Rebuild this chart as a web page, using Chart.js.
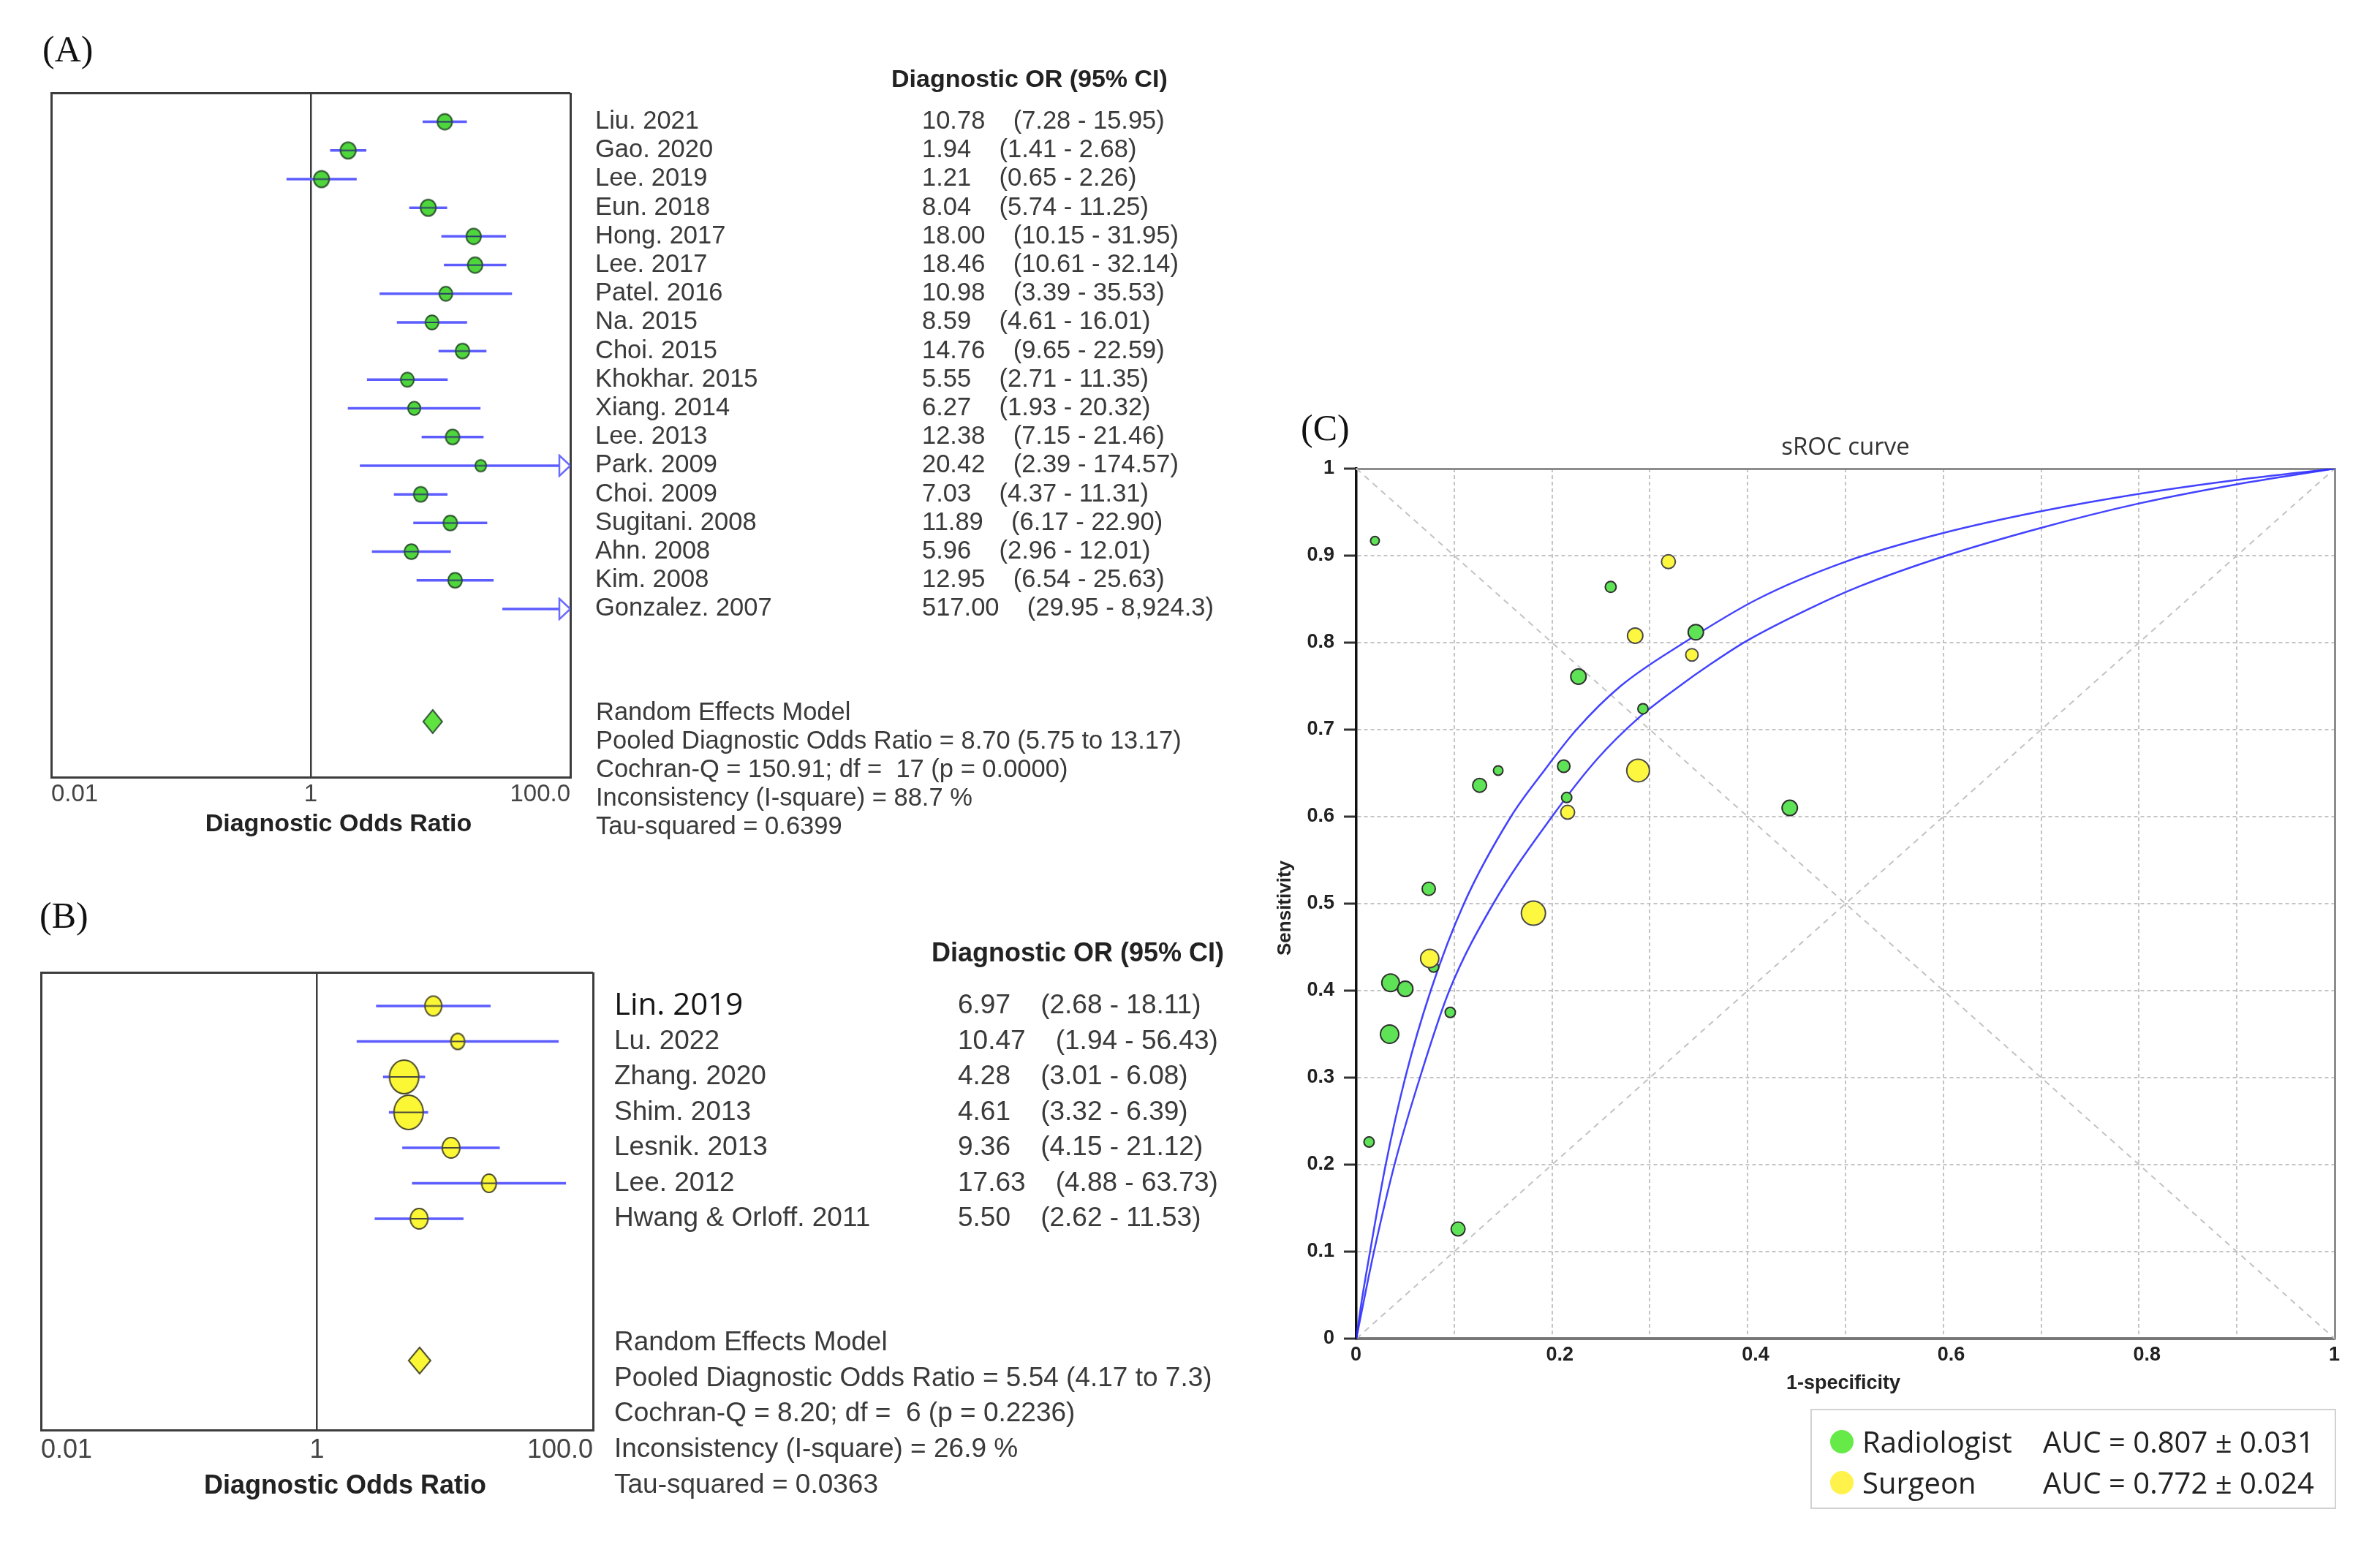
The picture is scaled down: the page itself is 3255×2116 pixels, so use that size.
<!DOCTYPE html>
<html><head><meta charset="utf-8">
<script src="https://cdn.jsdelivr.net/npm/chart.js@4.4.1/dist/chart.umd.min.js"></script>
<style>
html,body{margin:0;padding:0;background:#fff;}
body{width:3255px;height:2116px;position:relative;overflow:hidden;font-family:'Liberation Sans',Arial,sans-serif;}
.box{position:absolute;}
.t{position:absolute;white-space:pre;line-height:1;}
.dot{position:absolute;border-radius:50%;}
</style></head><body>
<div class="box" style="left:0;top:0;width:1700px;height:1130px"><canvas id="cA"></canvas></div>
<div class="box" style="left:0;top:1250px;width:1700px;height:766px"><canvas id="cB"></canvas></div>
<div class="box" style="left:1700px;top:600px;width:1555px;height:1330px"><canvas id="cC"></canvas></div>
<script>
// ---------------- DATA ----------------
// Panel A (Radiologist studies)
const namesA = ['Liu. 2021','Gao. 2020','Lee. 2019','Eun. 2018','Hong. 2017','Lee. 2017','Patel. 2016','Na. 2015','Choi. 2015','Khokhar. 2015','Xiang. 2014','Lee. 2013','Park. 2009','Choi. 2009','Sugitani. 2008','Ahn. 2008','Kim. 2008','Gonzalez. 2007'];
const orA = [10.78,1.94,1.21,8.04,18.00,18.46,10.98,8.59,14.76,5.55,6.27,12.38,20.42,7.03,11.89,5.96,12.95,517.00];
const loA = [7.28,1.41,0.65,5.74,10.15,10.61,3.39,4.61,9.65,2.71,1.93,7.15,2.39,4.37,6.17,2.96,6.54,29.95];
const hiA = [15.95,2.68,2.26,11.25,31.95,32.14,35.53,16.01,22.59,11.35,20.32,21.46,174.57,11.31,22.90,12.01,25.63,8924.3];
const pooledA = 8.70;
const statsA = ['Random Effects Model','Pooled Diagnostic Odds Ratio = 8.70 (5.75 to 13.17)','Cochran-Q = 150.91; df =  17 (p = 0.0000)','Inconsistency (I-square) = 88.7 %','Tau-squared = 0.6399'];

// Panel B (Surgeon studies)
const namesB = ['Lin. 2019','Lu. 2022','Zhang. 2020','Shim. 2013','Lesnik. 2013','Lee. 2012','Hwang & Orloff. 2011'];
const orB = [6.97,10.47,4.28,4.61,9.36,17.63,5.50];
const loB = [2.68,1.94,3.01,3.32,4.15,4.88,2.62];
const hiB = [18.11,56.43,6.08,6.39,21.12,63.73,11.53];
const pooledB = 5.54;
const statsB = ['Random Effects Model','Pooled Diagnostic Odds Ratio = 5.54 (4.17 to 7.3)','Cochran-Q = 8.20; df =  6 (p = 0.2236)','Inconsistency (I-square) = 26.9 %','Tau-squared = 0.0363'];

// Forest x axis ticks
const forestTicks = [0.01, 1, 100];
const forestTickLabels = ['0.01', '1', '100.0'];

// Panel C (sROC)
const radX = [0.019,0.260,0.347,0.227,0.293,0.145,0.126,0.212,0.215,0.443,0.074,0.079,0.035,0.050,0.096,0.034,0.013,0.104];
const radY = [0.917,0.864,0.812,0.761,0.724,0.653,0.636,0.658,0.622,0.610,0.517,0.427,0.409,0.402,0.375,0.350,0.226,0.126];
const surX = [0.319,0.285,0.343,0.288,0.216,0.181,0.075];
const surY = [0.893,0.808,0.786,0.653,0.605,0.489,0.437];
const curveRadX = [0,0.005,0.014,0.030,0.050,0.076,0.110,0.158,0.190,0.225,0.270,0.335,0.410,0.500,0.600,0.700,0.800,0.900,1];
const curveRadY = [0,0.04,0.1,0.2,0.3,0.4,0.5,0.6,0.65,0.7,0.75,0.8,0.85,0.893,0.926,0.951,0.971,0.987,1];
const curveSurX = [0,0.007,0.018,0.039,0.065,0.095,0.140,0.200,0.246,0.289,0.329,0.363,0.399,0.463,0.515,0.600,0.700,0.800,0.900,1];
const curveSurY = [0,0.04,0.1,0.2,0.3,0.4,0.5,0.6,0.666,0.714,0.749,0.776,0.802,0.839,0.865,0.899,0.932,0.960,0.982,1];
const diagX = [0,1];
const diagUpY = [0,1];
const diagDownY = [1,0];
const ticksC = [0,0.1,0.2,0.3,0.4,0.5,0.6,0.7,0.8,0.9,1];
const xLabelsC = ['0','','0.2','','0.4','','0.6','','0.8','','1'];
const yLabelsC = ['0','0.1','0.2','0.3','0.4','0.5','0.6','0.7','0.8','0.9','1'];
const legendC = [['Radiologist','AUC = 0.807 \u00b1 0.031'],['Surgeon','AUC = 0.772 \u00b1 0.024']];

// ---------------- STYLES ----------------
const SANS = "'Liberation Sans', Arial, sans-serif";
const CAL = "'Open Sans', 'Noto Sans', sans-serif";
const SERIF = "'Liberation Serif', 'Times New Roman', serif";
const TXT = '#3a3a3a';
const FRAME = '#3c3c3c';
const CI = '#5c5cff';
const GREEN = '#5fe356', YELLOW = '#fdf83f';
const radR = [6,7.5,10.5,10.5,7,6.5,9.5,8.5,7,10.5,9,7,12,10.5,7,12.5,7,9.5];
const surR = [9.5,10.5,8.5,15.5,9.5,16.5,12.5];
const markRA = [10,10.5,10.5,10.5,10,10,9,9,9.5,9,8.5,9.5,7.5,9.5,9.5,9.5,9.5,9];
const markRB = [[11.5,13.5],[9.5,11],[20,23],[20,23.5],[12,14],[10,12.5],[12,14]];

Chart.defaults.font.family = SANS;

function ellipse(rx, ry, fill, stroke, lw, mid) {
  const c = document.createElement('canvas');
  c.width = Math.ceil(2*rx + 2*lw + 2); c.height = Math.ceil(2*ry + 2*lw + 2);
  const g = c.getContext('2d');
  g.beginPath(); g.ellipse(c.width/2, c.height/2, rx, ry, 0, 0, Math.PI*2);
  g.fillStyle = fill; g.fill(); g.lineWidth = lw; g.strokeStyle = stroke; g.stroke();
  if (mid) { g.beginPath(); g.moveTo(c.width/2 - rx, c.height/2); g.lineTo(c.width/2 + rx, c.height/2);
    g.lineWidth = 2; g.strokeStyle = mid; g.stroke(); }
  return c;
}
function diamond(w, h, fill, stroke) {
  const c = document.createElement('canvas');
  c.width = w + 4; c.height = h + 4;
  const g = c.getContext('2d');
  g.beginPath(); g.moveTo(c.width/2, 2); g.lineTo(w+2, c.height/2); g.lineTo(c.width/2, h+2); g.lineTo(2, c.height/2); g.closePath();
  g.fillStyle = fill; g.fill(); g.lineWidth = 2; g.strokeStyle = stroke; g.stroke();
  return c;
}
function arrow(w, h, stroke) {
  const c = document.createElement('canvas');
  c.width = 2*w + 4; c.height = h + 4;
  const g = c.getContext('2d');
  g.beginPath(); g.moveTo(2, 2); g.lineTo(w + 2, c.height/2); g.lineTo(2, h + 2); g.closePath();
  g.fillStyle = '#fff'; g.fill(); g.lineWidth = 2.5; g.strokeStyle = stroke; g.stroke();
  return c;
}
function fmt(v) {
  if (v >= 1000) { const p = v.toFixed(1).split('.'); return p[0].replace(/\B(?=(\d{3})+(?!\d))/g, ',') + '.' + p[1]; }
  return v.toFixed(2);
}

function forestChart(id, d, L) {
  const datasets = [];
  d.lo.forEach((lo, i) => datasets.push({
    data: [{x: lo, y: i}, {x: d.hi[i], y: i}], showLine: true, pointRadius: 0,
    borderColor: CI, borderWidth: L.ciW, order: 3 }));
  datasets.push({ data: d.or.map((v, i) => ({x: v, y: i})), pointStyle: c => L.markers[c.dataIndex], pointRadius: 5, order: 1 });
  datasets.push({ data: d.hi.map((h, i) => h > L.xMax ? {x: L.xMax, y: i} : null).filter(p => p), pointStyle: L.arrow, pointRadius: 5, order: 0 });
  datasets.push({ data: [{x: d.pooled, y: L.pooledRow}], pointStyle: L.diamond, pointRadius: 5, order: 0 });
  const rowAxis = (weight, width, pad, cb, font, color) => ({
    type: 'linear', position: 'right', reverse: true, min: L.yMin, max: L.yMax, weight: weight,
    afterBuildTicks: s => { s.ticks = d.names.map((_, i) => ({value: i})); },
    afterFit: s => { s.width = width; },
    ticks: { callback: cb, padding: pad, font: font, color: color, autoSkip: false },
    grid: { display: false, drawTicks: false }, border: { display: false }
  });
  return new Chart(document.getElementById(id), {
    type: 'scatter',
    data: { datasets },
    options: {
      responsive: true, maintainAspectRatio: false, animation: false, events: [],
      layout: { padding: { left: L.left, top: L.top, right: 0, bottom: 0 } },
      plugins: { legend: { display: false }, tooltip: { enabled: false } },
      scales: {
        x: { type: 'logarithmic', min: 0.01, max: L.xMax,
          afterBuildTicks: s => { s.ticks = forestTicks.map(v => ({value: v})); },
          afterFit: s => { s.height = L.xH; },
          ticks: { align: 'inner', padding: L.tickPad, maxRotation: 0, autoSkip: false,
            font: { size: L.tickSize }, color: '#444', callback: (v, i) => forestTickLabels[i] },
          grid: { color: FRAME, lineWidth: c => c.index === 1 ? 2.5 : 3, drawTicks: false },
          border: { display: true, color: FRAME, width: 3 } },
        y: { type: 'linear', reverse: true, min: L.yMin, max: L.yMax,
          afterBuildTicks: s => { s.ticks = [{value: L.yMin}, {value: L.yMax}]; },
          afterFit: s => { s.width = 0; },
          ticks: { display: false },
          grid: { color: FRAME, lineWidth: 3, drawTicks: false },
          border: { display: true, color: FRAME, width: 3 } },
        yNames: rowAxis(1, L.namesW, L.namesPad, (v, i) => d.names[i], L.nameFont, L.nameColor),
        yVals: rowAxis(2, L.valsW, 0, (v, i) => fmt(d.or[i]) + '    (' + fmt(d.lo[i]) + ' - ' + fmt(d.hi[i]) + ')', { size: L.fs }, TXT)
      }
    }
  });
}

forestChart('cA', { names: namesA, or: orA, lo: loA, hi: hiA, pooled: pooledA }, {
  left: 70, top: 127, xH: 67, xMax: 100, yMin: -1.01, yMax: 22.87, pooledRow: 20.93,
  namesW: 481, valsW: 439, namesPad: 34, fs: 34.5, tickSize: 33, tickPad: 4, ciW: 3.5,
  nameFont: { size: 34.5 }, nameColor: TXT,
  markers: markRA.map(r => ellipse(r, r * 1.08, '#4fd63c', '#28502a', 2, '#2a3f6a')),
  arrow: arrow(15, 28, '#6a6aff'),
  diamond: diamond(26, 32, '#5fe33f', '#35553a')
});
forestChart('cB', { names: namesB, or: orB, lo: loB, hi: hiB, pooled: pooledB }, {
  left: 56, top: 80, xH: 60, xMax: 100, yMin: -0.948, yMax: 11.96, pooledRow: 10.0,
  namesW: 499, valsW: 390, namesPad: 29, fs: 37, tickSize: 36, tickPad: 6, ciW: 3.5,
  nameFont: c => c.index === 0 ? { family: CAL, size: 42 } : { family: SANS, size: 37 },
  nameColor: c => c.index === 0 ? '#151515' : TXT,
  markers: markRB.map(r => ellipse(r[0], r[1], '#fcf734', '#4a4a2a', 2, '#4a4a3a')),
  arrow: arrow(15, 28, '#6a6aff'),
  diamond: diamond(30, 36, '#fcf734', '#4a4a2a')
});

// Panel C
const gridCol = c => (c.index === 0 || c.index === ticksC.length - 1) ? 'rgba(0,0,0,0)' : '#c4c4c4';
new Chart(document.getElementById('cC'), {
  type: 'scatter',
  data: { datasets: [
    { label: 'Radiologist', data: radX.map((x, i) => ({x, y: radY[i]})), pointRadius: radR,
      pointBackgroundColor: GREEN, pointBorderColor: '#2e2e2e', pointBorderWidth: 2, order: 1 },
    { label: 'Surgeon', data: surX.map((x, i) => ({x, y: surY[i]})), pointRadius: surR,
      pointBackgroundColor: YELLOW, pointBorderColor: '#4a4a4a', pointBorderWidth: 2, order: 0 },
    { data: curveRadX.map((x, i) => ({x, y: curveRadY[i]})), showLine: true, pointRadius: 0,
      borderColor: 'rgba(45,45,255,0.9)', borderWidth: 2.5, cubicInterpolationMode: 'monotone', order: 2 },
    { data: curveSurX.map((x, i) => ({x, y: curveSurY[i]})), showLine: true, pointRadius: 0,
      borderColor: 'rgba(45,45,255,0.9)', borderWidth: 2.5, cubicInterpolationMode: 'monotone', order: 2 },
    { data: diagX.map((x, i) => ({x, y: diagUpY[i]})), showLine: true, pointRadius: 0,
      borderColor: '#c2c2c2', borderWidth: 2, borderDash: [8, 7], order: 3 },
    { data: diagX.map((x, i) => ({x, y: diagDownY[i]})), showLine: true, pointRadius: 0,
      borderColor: '#c2c2c2', borderWidth: 2, borderDash: [8, 7], order: 3 }
  ] },
  options: {
    responsive: true, maintainAspectRatio: false, animation: false, events: [],
    layout: { padding: { left: 0, top: 41, right: 62, bottom: 0 } },
    plugins: { legend: { display: false }, tooltip: { enabled: false } },
    scales: {
      x: { type: 'linear', min: 0, max: 1,
        afterBuildTicks: s => { s.ticks = ticksC.map(v => ({value: v})); },
        afterFit: s => { s.height = 99; },
        ticks: { callback: (v, i) => xLabelsC[i], font: { size: 27, weight: 'bold' }, color: '#222', padding: 6,
          align: 'start', labelOffset: -8, maxRotation: 0, autoSkip: false },
        grid: { color: gridCol, lineWidth: 2, drawTicks: false },
        border: { display: true, color: '#777', width: 4, dash: [5, 4] } },
      y: { type: 'linear', min: 0, max: 1,
        afterBuildTicks: s => { s.ticks = ticksC.map(v => ({value: v})); },
        afterFit: s => { s.width = 155; },
        ticks: { callback: (v, i) => yLabelsC[i], font: { size: 27, weight: 'bold' }, color: '#222', padding: 13, autoSkip: false },
        grid: { color: gridCol, lineWidth: 2, drawTicks: true, tickLength: 17, tickColor: '#333', tickWidth: 3, tickBorderDash: [] },
        border: { display: true, color: '#111', width: 3.5, dash: [5, 4] } },
      x2: { type: 'linear', position: 'top', min: 0, max: 1, afterFit: s => { s.height = 0; },
        ticks: { display: false }, grid: { display: false }, border: { display: true, color: '#8c8c8c', width: 3 } },
      y2: { type: 'linear', position: 'right', min: 0, max: 1, afterFit: s => { s.width = 0; },
        ticks: { display: false }, grid: { display: false }, border: { display: true, color: '#8c8c8c', width: 3 } }
    }
  }
});

// ---------------- TEXT ----------------
function txt(s, x, y, css, center, rot) {
  const d = document.createElement('div');
  d.className = 't'; d.textContent = s; d.style.cssText += css;
  d.style.left = x + 'px'; d.style.top = y + 'px';
  d.style.transform = center ? 'translate(-50%,-50%)' + (rot ? ' rotate(' + rot + 'deg)' : '') : 'translateY(-50%)';
  document.body.appendChild(d); return d;
}
txt('(A)', 58, 67, 'font-family:' + SERIF + ';font-size:50px;color:#111;');
txt('(B)', 54, 1252, 'font-family:' + SERIF + ';font-size:50px;color:#111;');
txt('(C)', 1779, 585, 'font-family:' + SERIF + ';font-size:50px;color:#111;');
txt('Diagnostic OR (95% CI)', 1219, 107, 'font-size:34px;font-weight:bold;color:#222;');
txt('Diagnostic OR (95% CI)', 1274, 1303, 'font-size:36px;font-weight:bold;color:#222;');
statsA.forEach((s, i) => txt(s, 815, 973 + i * 38.9, 'font-size:34.5px;color:' + TXT + ';'));
statsB.forEach((s, i) => txt(s, 840, 1834 + i * 48.7, 'font-size:37px;color:' + TXT + ';'));
txt('Diagnostic Odds Ratio', 463, 1125, 'font-size:34px;font-weight:bold;color:#222;', true);
txt('Diagnostic Odds Ratio', 472, 2031, 'font-size:36px;font-weight:bold;color:#222;', true);
txt('sROC curve', 2524, 609, 'font-family:' + CAL + ';font-size:33px;color:#333;', true);
txt('1-specificity', 2521, 1891, 'font-size:27px;font-weight:bold;color:#222;', true);
txt('Sensitivity', 1756, 1242, 'font-size:26px;font-weight:bold;color:#222;', true, -90);

// legend box
const lg = document.createElement('div');
lg.style.cssText = 'position:absolute;left:2476px;top:1927px;width:715px;height:133px;border:2px solid #d2d2d2;';
document.body.appendChild(lg);
[GREEN, YELLOW].forEach((col, i) => {
  const y = 1972 + i * 56;
  const d = document.createElement('div'); d.className = 'dot';
  d.style.cssText += 'left:' + (2519 - 16) + 'px;top:' + (y - 16) + 'px;width:32px;height:32px;background:' + (i === 0 ? '#66ea48' : '#fff24a') + ';';
  document.body.appendChild(d);
  txt(legendC[i][0], 2547, y, 'font-family:' + CAL + ';font-size:40px;color:#222;');
  txt(legendC[i][1], 2794, y, 'font-family:' + CAL + ';font-size:40px;color:#222;');
});
</script>
</body></html>
